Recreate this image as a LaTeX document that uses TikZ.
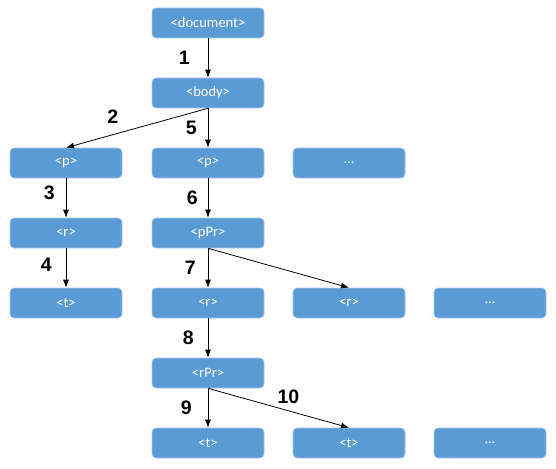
\documentclass[tikz,border=0pt]{standalone}
\usepackage{fontspec}
\setmainfont{Carlito}
\newfontfamily\numfont{Liberation Sans}
\usetikzlibrary{positioning,arrows.meta}

\definecolor{boxfill}{HTML}{5B9BD5}
\definecolor{boxline}{HTML}{A9C8EA}

\tikzset{
    box/.style={rectangle, rounded corners=4pt, draw=boxline, line width=0.6pt, fill=boxfill,
        text=white, minimum width=112pt, minimum height=30pt, inner sep=0pt,
        font=\fontsize{14.5}{16}\selectfont},
    num/.style={font=\numfont\bfseries\fontsize{19.5}{21}\selectfont, inner sep=2pt},
    link/.style={-{Latex[length=8pt,width=6pt]}, line width=0.8pt},
}

\begin{document}
\begin{tikzpicture}[on grid, node distance=70pt and 141pt]
    \useasboundingbox (0,0) rectangle (556pt,-468pt);

    \node[box] (doc) at (208pt,-23pt) {<document>};
    \node[box, below=of doc] (body) {<body>};
    \node[box, below=of body] (p2) {<p>};
    \node[box, left=142pt of p2] (p1) {<p>};
    \node[box, right=of p2] (p3) {...};
    \node[box, below=of p1] (r1) {<r>};
    \node[box, below=of r1] (t1) {<t>};
    \node[box, below=of p2] (ppr) {<pPr>};
    \node[box, below=of ppr] (r2) {<r>};
    \node[box, right=of r2] (r3) {<r>};
    \node[box, right=of r3] (r4) {...};
    \node[box, below=of r2] (rpr) {<rPr>};
    \node[box, below=of rpr] (t2) {<t>};
    \node[box, right=of t2] (t3) {<t>};
    \node[box, right=of t3] (t4) {...};

    \draw[link] (doc) -- node[num, left=16pt] {1} (body);
    \draw[link] (body.south) -- node[num, above=9pt, pos=0.67] {2} (p1.north);
    \draw[link] (body) -- node[num, left=9pt] {5} (p2);
    \draw[link] (p1) -- node[num, left=9pt, yshift=5pt] {3} (r1);
    \draw[link] (r1) -- node[num, left=12pt, yshift=3pt] {4} (t1);
    \draw[link] (p2) -- node[num, left=8pt] {6} (ppr);
    \draw[link] (ppr) -- node[num, left=10pt] {7} (r2);
    \draw[link] (ppr.south) -- (r3.north);
    \draw[link] (r2) -- node[num, left=12pt] {8} (rpr);
    \draw[link] (rpr) -- node[num, left=14pt] {9} (t2);
    \draw[link] (rpr.south) -- node[num, above=5pt, pos=0.57] {10} (t3.north);
\end{tikzpicture}
\end{document}
